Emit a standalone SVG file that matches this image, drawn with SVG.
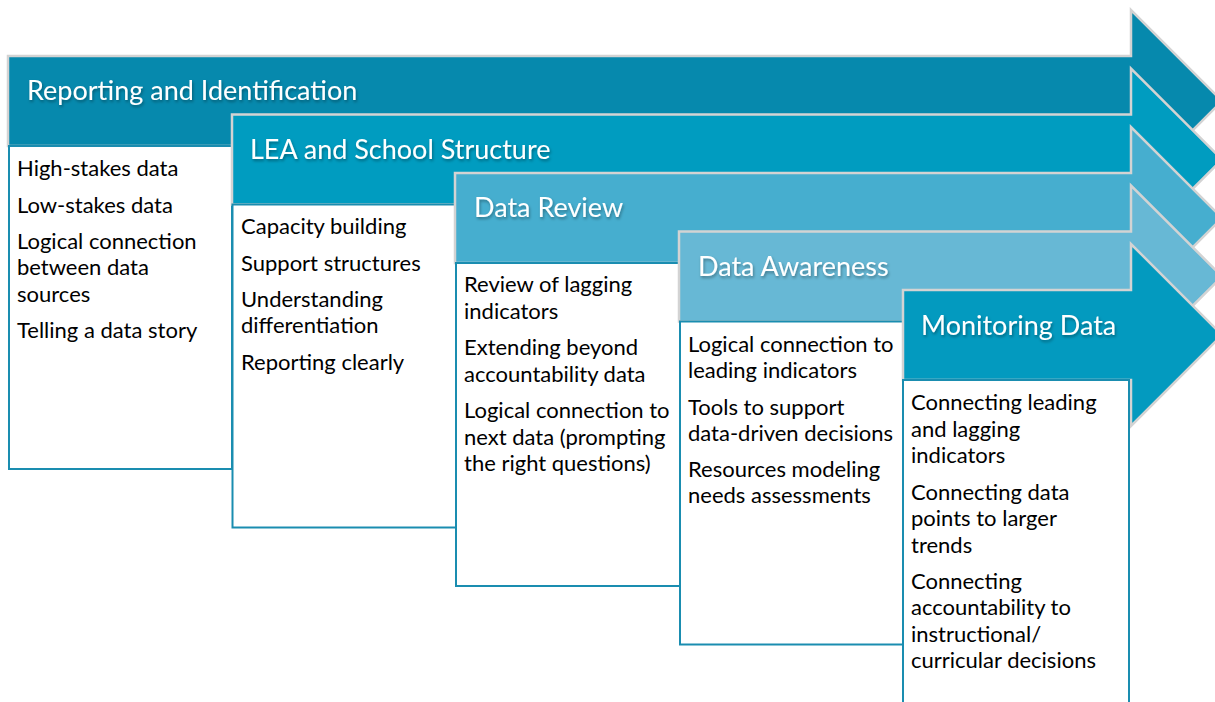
<svg xmlns="http://www.w3.org/2000/svg" width="1215" height="702" viewBox="0 0 1215 702">
<defs>
<filter id="sh" x="-10%" y="-30%" width="120%" height="170%">
<feDropShadow dx="1" dy="2" stdDeviation="1.8" flood-color="#000" flood-opacity="0.35"/>
</filter>
</defs>
<style>
.arrow{stroke:#D3D3D3;stroke-width:2.5;stroke-linejoin:miter}
.box{fill:#fff;stroke:#1A8DB0;stroke-width:2}
.hd{font-family:Lato,"Open Sans","Liberation Sans",sans-serif;font-size:27px;fill:#fff;filter:url(#sh)}
.tx{font-family:Lato,"Open Sans","Liberation Sans",sans-serif;font-size:22px;fill:#000}
</style>
<rect width="1215" height="702" fill="#fff"/>
<g id="node1">
<polygon class="arrow" fill="#0689AD" points="8,56 1131,56 1131,10 1222,101 1131,192 1131,146 8,146"/>
<text class="hd" x="27" y="100">Reporting and Identification</text>
<rect class="box" x="9" y="146" width="223" height="323"/>
<g class="tx">
<text x="17" y="176">High-stakes data</text>
<text x="17" y="213">Low-stakes data</text>
<text x="17" y="249">Logical connection</text>
<text x="17" y="275">between data</text>
<text x="17" y="302">sources</text>
<text x="17" y="338">Telling a data story</text>
</g>
</g>
<g id="node2">
<polygon class="arrow" fill="#009CC0" points="232,114.5 1131,114.5 1131,68.5 1222,159.5 1131,250.5 1131,204.5 232,204.5"/>
<text class="hd" x="250" y="159">LEA and School Structure</text>
<rect class="box" x="232.5" y="204.5" width="223.5" height="323"/>
<g class="tx">
<text x="241" y="234">Capacity building</text>
<text x="241" y="271">Support structures</text>
<text x="241" y="307">Understanding</text>
<text x="241" y="333">differentiation</text>
<text x="241" y="370">Reporting clearly</text>
</g>
</g>
<g id="node3">
<polygon class="arrow" fill="#46AECF" points="455,173 1131,173 1131,127 1222,218 1131,309 1131,263 455,263"/>
<text class="hd" x="474" y="217">Data Review</text>
<rect class="box" x="456" y="263" width="224" height="323"/>
<g class="tx">
<text x="464" y="292">Review of lagging</text>
<text x="464" y="319">indicators</text>
<text x="464" y="355">Extending beyond</text>
<text x="464" y="382">accountability data</text>
<text x="464" y="418">Logical connection to</text>
<text x="464" y="445">next data (prompting</text>
<text x="464" y="471">the right questions)</text>
</g>
</g>
<g id="node4">
<polygon class="arrow" fill="#67B8D5" points="679,231.5 1131,231.5 1131,185.5 1222,276.5 1131,367.5 1131,321.5 679,321.5"/>
<text class="hd" x="698" y="276">Data Awareness</text>
<rect class="box" x="680" y="321.5" width="223" height="323"/>
<g class="tx">
<text x="688" y="352">Logical connection to</text>
<text x="688" y="378">leading indicators</text>
<text x="688" y="415">Tools to support</text>
<text x="688" y="441">data-driven decisions</text>
<text x="688" y="477">Resources modeling</text>
<text x="688" y="503">needs assessments</text>
</g>
</g>
<g id="node5">
<polygon class="arrow" fill="#039ABF" points="903,290 1131,290 1131,244 1222,335 1131,426 1131,380 903,380"/>
<text class="hd" x="921" y="335">Monitoring Data</text>
<rect class="box" x="903" y="380" width="226" height="360"/>
<g class="tx">
<text x="911" y="410">Connecting leading</text>
<text x="911" y="437">and lagging</text>
<text x="911" y="463">indicators</text>
<text x="911" y="500">Connecting data</text>
<text x="911" y="526">points to larger</text>
<text x="911" y="553">trends</text>
<text x="911" y="589">Connecting</text>
<text x="911" y="615">accountability to</text>
<text x="911" y="642">instructional/</text>
<text x="911" y="668">curricular decisions</text>
</g>
</g>
<g id="connectors"/>
</svg>
